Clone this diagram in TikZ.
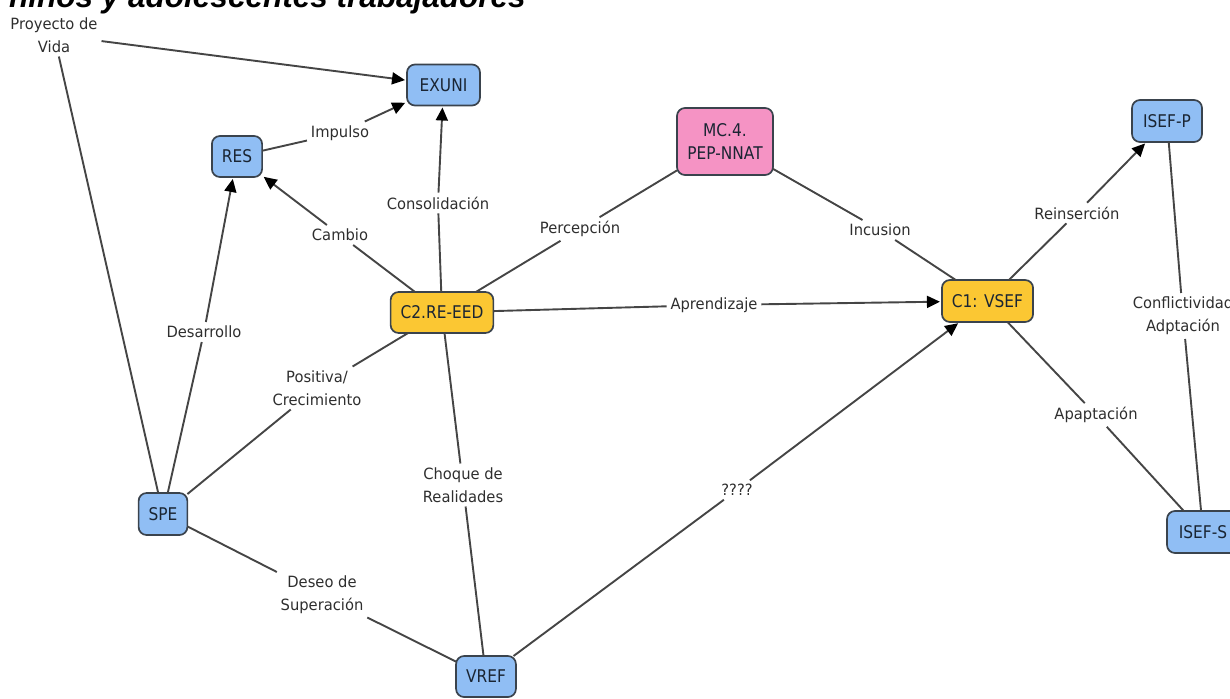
\documentclass[tikz,border=0pt]{standalone}
\usepackage{fontspec}
\setmainfont{DejaVu Sans}
\newfontfamily\nodefont{DejaVu Sans}[FakeStretch=0.88]
\newfontfamily\linkfont{DejaVu Sans}[FakeStretch=0.95]
\newfontfamily\titlefont{Liberation Sans}
\usetikzlibrary{arrows.meta}

\definecolor{nblue}{HTML}{90BEF4}
\definecolor{nyellow}{HTML}{FBC733}
\definecolor{npink}{HTML}{F593C4}
\definecolor{nborder}{HTML}{3A434D}
\definecolor{ntext}{HTML}{1A2533}
\definecolor{ltext}{HTML}{2E2E2E}
\definecolor{edgegray}{HTML}{454545}

\begin{document}
\begin{tikzpicture}[x=1pt,y=-1pt,
  concept/.style={draw=nborder, line width=1.7pt, rounded corners=8pt,
    minimum height=41pt, inner xsep=10pt, inner ysep=3pt, outer sep=0pt,
    font=\nodefont\fontsize{17.5}{23}\selectfont, text=ntext, align=center},
  bluebox/.style={concept, fill=nblue},
  yellowbox/.style={concept, fill=nyellow},
  pinkbox/.style={concept, fill=npink},
  link/.style={font=\linkfont\fontsize{15.5}{23}\selectfont, text=ltext,
    align=center, inner xsep=4pt, inner ysep=4pt, outer sep=0pt},
  conn/.style={draw=edgegray, line width=1.9pt},
  arr/.style={conn, -{Triangle[length=13pt,width=12pt,color=black]}, shorten >=2pt}
]
\useasboundingbox (0,0) rectangle (1230,698);
\clip (0,0) rectangle (1230,698);

% title (cut off at the top of the picture, as in the reference)
\node[anchor=base west, inner sep=0pt, text=black,
  font=\titlefont\bfseries\itshape\fontsize{31.5}{32}\selectfont]
  (title) at (9,8) {niños y adolescentes trabajadores};

% concepts
\node[bluebox, minimum width=73pt] (exuni) at (443.5,85) {EXUNI};
\node[bluebox] (res) at (237,156.5) {RES};
\node[pinkbox, minimum height=67pt, minimum width=96pt] (mc4) at (725,141.5) {MC.4.\\PEP-NNAT};
\node[bluebox, minimum width=70pt, minimum height=42pt] (isefp) at (1167,121) {ISEF-P};
\node[yellowbox, minimum width=100pt] (c2) at (442,312.5) {C2.RE-EED};
\node[yellowbox, minimum width=89pt, minimum height=42pt] (c1) at (987.5,301) {C1: VSEF};
\node[bluebox, minimum width=48pt, minimum height=42pt] (spe) at (163,514) {SPE};
\node[bluebox, minimum width=58pt] (vref) at (486,676.5) {VREF};
\node[bluebox, minimum width=72pt, minimum height=42pt] (isefs) at (1203,532) {ISEF-S};

% linking phrases
\node[link] (proy) at (54,35) {Proyecto de\\Vida};
\node[link] (impulso) at (340,133) {Impulso};
\node[link] (consol) at (438,203) {Consolidación};
\node[link] (cambio) at (340,235) {Cambio};
\node[link] (percep) at (580,229) {Percepción};
\node[link] (incusion) at (880,230) {Incusion};
\node[link] (aprend) at (714,305) {Aprendizaje};
\node[link] (reins) at (1077,213) {Reinserción};
\node[link] (confl) at (1183,316) {Conflictividad\\Adptación};
\node[link] (desarr) at (204,332) {Desarrollo};
\node[link] (posit) at (317,388) {Positiva/\\Crecimiento};
\node[link] (apapt) at (1096,415) {Apaptación};
\node[link] (choque) at (463,485) {Choque de\\Realidades};
\node[link] (quest) at (737,490) {????};
\node[link] (deseo) at (322,595) {Deseo de\\Superación};

% connectors
\draw[conn] (spe) -- (proy);
\draw[arr] (proy) -- (exuni);
\draw[conn] (res) -- (impulso);
\draw[arr] (impulso) -- (exuni);
\draw[conn] (c2) -- (consol);
\draw[arr] (consol) -- (exuni);
\draw[conn] (c2) -- (cambio);
\draw[arr] (cambio) -- (res);
\draw[conn] (spe) -- (desarr);
\draw[arr] (desarr) -- (res);
\draw[conn] (c2) -- (percep);
\draw[conn] (percep) -- (mc4);
\draw[conn] (mc4) -- (incusion);
\draw[conn] (incusion) -- (c1);
\draw[conn] (c2) -- (aprend);
\draw[arr] (aprend) -- (c1);
\draw[conn] (c1) -- (reins);
\draw[arr] (reins) -- (isefp);
\draw[conn] (isefp) -- (confl);
\draw[conn] (confl) -- (isefs);
\draw[conn] (c1) -- (apapt);
\draw[conn] (apapt) -- (isefs);
\draw[conn] (spe) -- (posit);
\draw[conn] (posit) -- (c2);
\draw[conn] (c2) -- (choque);
\draw[conn] (choque) -- (vref);
\draw[conn] (spe) -- (deseo);
\draw[conn] (deseo) -- (vref);
\draw[conn] (vref) -- (quest);
\draw[arr] (quest) -- (c1);
\end{tikzpicture}
\end{document}
